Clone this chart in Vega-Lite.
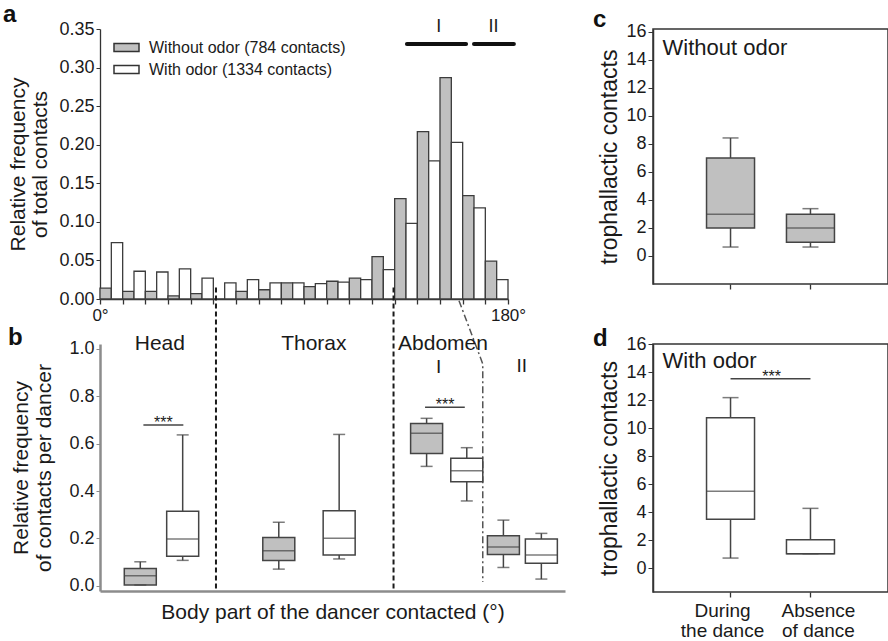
{
  "$schema": "https://vega.github.io/schema/vega-lite/v6.json",
  "background": "white",
  "padding": {"left": 2, "top": 2, "right": 0, "bottom": 0},
  "config": {
    "font": "Liberation Sans",
    "view": {"stroke": null},
    "axis": {"grid": false, "labelFont": "Liberation Sans", "titleFont": "Liberation Sans", "labelColor": "#1a1a1a", "titleColor": "#1a1a1a", "titleFontWeight": "normal", "domainColor": "#333333", "tickColor": "#333333", "labelOverlap": false},
    "title": {"font": "Liberation Sans", "fontSize": 24, "fontWeight": "bold", "color": "#111111", "anchor": "start", "frame": "bounds"},
    "text": {"font": "Liberation Sans", "color": "#1a1a1a"},
    "legend": {"labelFont": "Liberation Sans"}
  },
  "datasets": {
    "histogram": [
      {"angle_from": 0, "angle_to": 5, "frequency": 0.014, "condition": "Without odor (784 contacts)"},
      {"angle_from": 5, "angle_to": 10, "frequency": 0.073, "condition": "With odor (1334 contacts)"},
      {"angle_from": 10, "angle_to": 15, "frequency": 0.010, "condition": "Without odor (784 contacts)"},
      {"angle_from": 15, "angle_to": 20, "frequency": 0.036, "condition": "With odor (1334 contacts)"},
      {"angle_from": 20, "angle_to": 25, "frequency": 0.010, "condition": "Without odor (784 contacts)"},
      {"angle_from": 25, "angle_to": 30, "frequency": 0.035, "condition": "With odor (1334 contacts)"},
      {"angle_from": 30, "angle_to": 35, "frequency": 0.004, "condition": "Without odor (784 contacts)"},
      {"angle_from": 35, "angle_to": 40, "frequency": 0.039, "condition": "With odor (1334 contacts)"},
      {"angle_from": 40, "angle_to": 45, "frequency": 0.007, "condition": "Without odor (784 contacts)"},
      {"angle_from": 45, "angle_to": 50, "frequency": 0.027, "condition": "With odor (1334 contacts)"},
      {"angle_from": 50, "angle_to": 55, "frequency": 0.0, "condition": "Without odor (784 contacts)"},
      {"angle_from": 55, "angle_to": 60, "frequency": 0.021, "condition": "With odor (1334 contacts)"},
      {"angle_from": 60, "angle_to": 65, "frequency": 0.010, "condition": "Without odor (784 contacts)"},
      {"angle_from": 65, "angle_to": 70, "frequency": 0.025, "condition": "With odor (1334 contacts)"},
      {"angle_from": 70, "angle_to": 75, "frequency": 0.012, "condition": "Without odor (784 contacts)"},
      {"angle_from": 75, "angle_to": 80, "frequency": 0.021, "condition": "With odor (1334 contacts)"},
      {"angle_from": 80, "angle_to": 85, "frequency": 0.021, "condition": "Without odor (784 contacts)"},
      {"angle_from": 85, "angle_to": 90, "frequency": 0.021, "condition": "With odor (1334 contacts)"},
      {"angle_from": 90, "angle_to": 95, "frequency": 0.016, "condition": "Without odor (784 contacts)"},
      {"angle_from": 95, "angle_to": 100, "frequency": 0.020, "condition": "With odor (1334 contacts)"},
      {"angle_from": 100, "angle_to": 105, "frequency": 0.023, "condition": "Without odor (784 contacts)"},
      {"angle_from": 105, "angle_to": 110, "frequency": 0.022, "condition": "With odor (1334 contacts)"},
      {"angle_from": 110, "angle_to": 115, "frequency": 0.027, "condition": "Without odor (784 contacts)"},
      {"angle_from": 115, "angle_to": 120, "frequency": 0.025, "condition": "With odor (1334 contacts)"},
      {"angle_from": 120, "angle_to": 125, "frequency": 0.055, "condition": "Without odor (784 contacts)"},
      {"angle_from": 125, "angle_to": 130, "frequency": 0.038, "condition": "With odor (1334 contacts)"},
      {"angle_from": 130, "angle_to": 135, "frequency": 0.130, "condition": "Without odor (784 contacts)"},
      {"angle_from": 135, "angle_to": 140, "frequency": 0.098, "condition": "With odor (1334 contacts)"},
      {"angle_from": 140, "angle_to": 145, "frequency": 0.217, "condition": "Without odor (784 contacts)"},
      {"angle_from": 145, "angle_to": 150, "frequency": 0.179, "condition": "With odor (1334 contacts)"},
      {"angle_from": 150, "angle_to": 155, "frequency": 0.287, "condition": "Without odor (784 contacts)"},
      {"angle_from": 155, "angle_to": 160, "frequency": 0.203, "condition": "With odor (1334 contacts)"},
      {"angle_from": 160, "angle_to": 165, "frequency": 0.134, "condition": "Without odor (784 contacts)"},
      {"angle_from": 165, "angle_to": 170, "frequency": 0.118, "condition": "With odor (1334 contacts)"},
      {"angle_from": 170, "angle_to": 175, "frequency": 0.049, "condition": "Without odor (784 contacts)"},
      {"angle_from": 175, "angle_to": 180, "frequency": 0.025, "condition": "With odor (1334 contacts)"}
    ],
    "abdomen_segments": [
      {"segment": "I", "angle_start": 135.4, "angle_end": 161.5, "label_angle": 149.4, "level": 0.3306, "label_level": 0.3526},
      {"segment": "II", "angle_start": 165.0, "angle_end": 182.6, "label_angle": 173.6, "level": 0.3306, "label_level": 0.3526}
    ],
    "body_parts": [
      {"part": "Head", "condition": "Without odor", "angle": 15.9, "whisker_low": 0.003, "q1": 0.003, "median": 0.042, "q3": 0.073, "whisker_high": 0.101},
      {"part": "Head", "condition": "With odor", "angle": 35.0, "whisker_low": 0.107, "q1": 0.124, "median": 0.197, "q3": 0.314, "whisker_high": 0.637},
      {"part": "Thorax", "condition": "Without odor", "angle": 78.3, "whisker_low": 0.070, "q1": 0.106, "median": 0.148, "q3": 0.204, "whisker_high": 0.268},
      {"part": "Thorax", "condition": "With odor", "angle": 105.5, "whisker_low": 0.113, "q1": 0.130, "median": 0.200, "q3": 0.317, "whisker_high": 0.639},
      {"part": "Abdomen I", "condition": "Without odor", "angle": 144.9, "whisker_low": 0.504, "q1": 0.558, "median": 0.644, "q3": 0.685, "whisker_high": 0.707},
      {"part": "Abdomen I", "condition": "With odor", "angle": 163.0, "whisker_low": 0.358, "q1": 0.439, "median": 0.486, "q3": 0.538, "whisker_high": 0.583},
      {"part": "Abdomen II", "condition": "Without odor", "angle": 179.5, "whisker_low": 0.077, "q1": 0.132, "median": 0.163, "q3": 0.211, "whisker_high": 0.277},
      {"part": "Abdomen II", "condition": "With odor", "angle": 196.6, "whisker_low": 0.028, "q1": 0.095, "median": 0.130, "q3": 0.197, "whisker_high": 0.221}
    ],
    "region_boundaries": [
      {"boundary_angle": 50},
      {"boundary_angle": 130}
    ],
    "abdomen_split": [
      {"step": 1, "angle": 159.5, "level": 1.204},
      {"step": 2, "angle": 170.2, "level": 0.937},
      {"step": 3, "angle": 170.2, "level": 0.016}
    ],
    "region_labels": [
      {"label": "Head", "angle": 24.7, "level": 1.021},
      {"label": "Thorax", "angle": 94.1, "level": 1.021},
      {"label": "Abdomen", "angle": 152.3, "level": 1.021}
    ],
    "subregion_labels": [
      {"label": "I", "angle": 150.3, "level": 0.924},
      {"label": "II", "angle": 187.8, "level": 0.93}
    ],
    "significance_b": [
      {"from": 17.3, "to": 35.3, "mid": 26.3, "level": 0.679, "marker": "***"},
      {"from": 144.2, "to": 162.1, "mid": 153.2, "level": 0.7535, "marker": "***"}
    ],
    "trophallaxis": [
      {"odor": "Without odor", "period": "During the dance", "whisker_low": 0.64, "q1": 2.0, "median": 2.98, "q3": 7.0, "whisker_high": 8.43},
      {"odor": "Without odor", "period": "Absence of dance", "whisker_low": 0.64, "q1": 0.98, "median": 2.0, "q3": 2.98, "whisker_high": 3.38},
      {"odor": "With odor", "period": "During the dance", "whisker_low": 0.71, "q1": 3.48, "median": 5.48, "q3": 10.74, "whisker_high": 12.17},
      {"odor": "With odor", "period": "Absence of dance", "whisker_low": 1.02, "q1": 1.02, "median": 1.02, "q3": 2.02, "whisker_high": 4.26}
    ],
    "panel_labels": [
      {"panel": "c", "label": "Without odor"},
      {"panel": "d", "label": "With odor"}
    ],
    "significance_d": [
      {"from": "During the dance", "to": "Absence of dance", "level": 13.52, "marker": "***"}
    ]
  },
  "bounds": "flush",
  "columns": 2,
  "spacing": {"row": 45, "column": 88},
  "resolve": {"scale": {"fill": "independent"}, "legend": {"fill": "independent"}},
  "concat": [
    {
      "width": 408,
      "height": 270,
      "title": {"text": "a", "dx": -5, "offset": -9},
      "layer": [
        {
          "data": {"name": "histogram"},
          "mark": {"type": "bar", "stroke": "#3c3c3c", "strokeWidth": 1.3},
          "encoding": {
            "x": {"field": "angle_from", "type": "quantitative", "scale": {"domain": [0, 180], "nice": false, "zero": false},
              "axis": {"title": null, "values": [0, 10, 20, 30, 40, 50, 60, 70, 80, 90, 100, 110, 120, 130, 140, 150, 160, 170, 180], "tickCount": 50, "labelExpr": "datum.value == 0 || datum.value == 180 ? datum.value + '°' : ''", "tickSize": 5, "labelFontSize": 17, "labelPadding": 3, "domainWidth": 1.3, "tickWidth": 1.3, "labelFlush": false, "labelOverlap": false}},
            "x2": {"field": "angle_to"},
            "y": {"field": "frequency", "type": "quantitative", "scale": {"domain": [0, 0.35], "nice": false},
              "axis": {"values": [0, 0.05, 0.1, 0.15, 0.2, 0.25, 0.3, 0.35], "tickCount": 20, "format": ".2f", "labelOverlap": false, "labelFontSize": 18, "tickSize": 4, "labelPadding": 2, "title": ["Relative frequency", "of total contacts"], "titleFontSize": 21, "titleLineHeight": 22, "titlePadding": 8, "domainWidth": 1.3}},
            "y2": {"datum": 0},
            "fill": {"field": "condition", "type": "nominal",
              "scale": {"domain": ["Without odor (784 contacts)", "With odor (1334 contacts)"], "range": ["#c0c0c0", "#ffffff"]},
              "legend": {"title": null, "orient": "none", "legendX": 13, "legendY": 5, "symbolType": "M-1,-0.32H1V0.32H-1Z", "symbolSize": 625, "symbolStrokeColor": "#333333", "symbolStrokeWidth": 1.5, "labelFontSize": 16, "labelOffset": 9, "labelLimit": 400, "rowPadding": -8, "labelColor": "#1a1a1a"}}
          }
        },
        {
          "data": {"name": "abdomen_segments"},
          "mark": {"type": "rule", "strokeWidth": 4, "color": "#111111", "strokeCap": "round"},
          "encoding": {
            "x": {"field": "angle_start", "type": "quantitative"},
            "x2": {"field": "angle_end"},
            "y": {"field": "level", "type": "quantitative"}
          }
        },
        {
          "data": {"name": "abdomen_segments"},
          "mark": {"type": "text", "fontSize": 18, "baseline": "middle"},
          "encoding": {
            "x": {"field": "label_angle", "type": "quantitative"},
            "y": {"field": "label_level", "type": "quantitative"},
            "text": {"field": "segment"}
          }
        }
      ]
    },
    {
      "width": 235,
      "height": 255,
      "view": {"stroke": "#333333", "strokeWidth": 1.5},
      "title": {"text": "c", "dx": -6, "offset": -9},
      "layer": [
        {
          "data": {"name": "trophallaxis"},
          "transform": [{"filter": "datum.odor == 'Without odor'"}],
          "mark": {"type": "rule", "strokeWidth": 1.5, "color": "#444444"},
          "encoding": {
            "x": {"field": "period", "type": "nominal"},
            "y": {"field": "whisker_low", "type": "quantitative"},
            "y2": {"field": "whisker_high"}
          }
        },
        {
          "data": {"name": "trophallaxis"},
          "transform": [{"filter": "datum.odor == 'Without odor'"}],
          "mark": {"type": "bar", "size": 48, "fill": "#c0c0c0", "stroke": "#444444", "strokeWidth": 1.5},
          "encoding": {
            "x": {"field": "period", "type": "nominal", "sort": null,
              "scale": {"type": "band", "domain": ["During the dance", "Absence of dance"], "paddingInner": 0, "paddingOuter": 0.47},
              "axis": {"title": null, "labels": false, "tickSize": 5, "domain": false, "bandPosition": 0.5, "tickWidth": 1.3}},
            "y": {"field": "q1", "type": "quantitative", "scale": {"domain": [-2, 16.21], "nice": false, "zero": false},
              "axis": {"values": [0, 2, 4, 6, 8, 10, 12, 14, 16], "tickCount": 20, "labelOverlap": false, "labelFontSize": 18, "tickSize": 5, "labelPadding": 2, "title": "trophallactic contacts", "titleFontSize": 23, "titlePadding": 4, "domainWidth": 1.5}},
            "y2": {"field": "q3"}
          }
        },
        {
          "data": {"name": "trophallaxis"},
          "transform": [{"filter": "datum.odor == 'Without odor'"}],
          "mark": {"type": "tick", "orient": "horizontal", "size": 16, "thickness": 1.5, "color": "#444444"},
          "encoding": {
            "x": {"field": "period", "type": "nominal"},
            "y": {"field": "whisker_low", "type": "quantitative"}
          }
        },
        {
          "data": {"name": "trophallaxis"},
          "transform": [{"filter": "datum.odor == 'Without odor'"}],
          "mark": {"type": "tick", "orient": "horizontal", "size": 16, "thickness": 1.5, "color": "#444444"},
          "encoding": {
            "x": {"field": "period", "type": "nominal"},
            "y": {"field": "whisker_high", "type": "quantitative"}
          }
        },
        {
          "data": {"name": "trophallaxis"},
          "transform": [{"filter": "datum.odor == 'Without odor'"}],
          "mark": {"type": "tick", "orient": "horizontal", "size": 48, "thickness": 1.5, "color": "#444444"},
          "encoding": {
            "x": {"field": "period", "type": "nominal"},
            "y": {"field": "median", "type": "quantitative"}
          }
        },
        {
          "data": {"name": "panel_labels"},
          "transform": [{"filter": "datum.panel == 'c'"}],
          "mark": {"type": "text", "fontSize": 22, "align": "left", "baseline": "middle", "dx": -68},
          "encoding": {
            "x": {"datum": "During the dance", "type": "nominal"},
            "y": {"datum": 14.86, "type": "quantitative"},
            "text": {"field": "label"}
          }
        }
      ]
    },
    {
      "width": 465,
      "height": 247,
      "title": {"text": "b", "dx": -3, "offset": -64},
      "layer": [
        {
          "data": {"name": "region_boundaries"},
          "mark": {"type": "rule", "strokeDash": [5, 3], "strokeWidth": 2, "color": "#1a1a1a"},
          "encoding": {
            "x": {"field": "boundary_angle", "type": "quantitative"},
            "y": {"datum": 1.26, "type": "quantitative"},
            "y2": {"datum": -0.0224}
          }
        },
        {
          "data": {"name": "abdomen_split"},
          "mark": {"type": "line", "strokeDash": [7, 3, 2, 3], "strokeWidth": 1.5, "color": "#555555"},
          "encoding": {
            "x": {"field": "angle", "type": "quantitative"},
            "y": {"field": "level", "type": "quantitative"},
            "order": {"field": "step"}
          }
        },
        {
          "data": {"name": "body_parts"},
          "mark": {"type": "rule", "strokeWidth": 1.5, "color": "#444444"},
          "encoding": {
            "x": {"field": "angle", "type": "quantitative"},
            "y": {"field": "whisker_low", "type": "quantitative"},
            "y2": {"field": "whisker_high"}
          }
        },
        {
          "data": {"name": "body_parts"},
          "mark": {"type": "bar", "size": 32, "stroke": "#444444", "strokeWidth": 1.5},
          "encoding": {
            "x": {"field": "angle", "type": "quantitative", "scale": {"domain": [0, 205], "nice": false, "zero": false},
              "axis": {"title": "Body part of the dancer contacted (°)", "labels": false, "ticks": false, "domainColor": "#8c8c8c", "domainWidth": 2.5, "titleFontSize": 21, "titlePadding": 10}},
            "y": {"field": "q1", "type": "quantitative", "scale": {"domain": [-0.0224, 1.021], "nice": false, "zero": false},
              "axis": {"values": [0, 0.2, 0.4, 0.6, 0.8, 1.0], "tickCount": 20, "format": ".1f", "labelOverlap": false, "labelFontSize": 18, "tickSize": 4, "labelPadding": 2, "tickColor": "#8c8c8c", "domainColor": "#8c8c8c", "domainWidth": 2.5, "title": ["Relative frequency", "of contacts per dancer"], "titleFontSize": 21, "titleLineHeight": 23, "titlePadding": 14}},
            "y2": {"field": "q3"},
            "fill": {"field": "condition", "type": "nominal", "scale": {"domain": ["Without odor", "With odor"], "range": ["#c0c0c0", "#ffffff"]}, "legend": null}
          }
        },
        {
          "data": {"name": "body_parts"},
          "mark": {"type": "tick", "orient": "horizontal", "size": 12, "thickness": 1.5, "color": "#444444"},
          "encoding": {
            "x": {"field": "angle", "type": "quantitative"},
            "y": {"field": "whisker_low", "type": "quantitative"}
          }
        },
        {
          "data": {"name": "body_parts"},
          "mark": {"type": "tick", "orient": "horizontal", "size": 12, "thickness": 1.5, "color": "#444444"},
          "encoding": {
            "x": {"field": "angle", "type": "quantitative"},
            "y": {"field": "whisker_high", "type": "quantitative"}
          }
        },
        {
          "data": {"name": "body_parts"},
          "mark": {"type": "tick", "orient": "horizontal", "size": 32, "thickness": 1.5, "color": "#444444"},
          "encoding": {
            "x": {"field": "angle", "type": "quantitative"},
            "y": {"field": "median", "type": "quantitative"}
          }
        },
        {
          "data": {"name": "significance_b"},
          "mark": {"type": "rule", "strokeWidth": 1.5, "color": "#444444"},
          "encoding": {
            "x": {"field": "from", "type": "quantitative"},
            "x2": {"field": "to"},
            "y": {"field": "level", "type": "quantitative"}
          }
        },
        {
          "data": {"name": "significance_b"},
          "mark": {"type": "text", "fontSize": 16, "baseline": "alphabetic", "dy": 3},
          "encoding": {
            "x": {"field": "mid", "type": "quantitative"},
            "y": {"field": "level", "type": "quantitative"},
            "text": {"field": "marker"}
          }
        },
        {
          "data": {"name": "region_labels"},
          "mark": {"type": "text", "fontSize": 21, "baseline": "middle"},
          "encoding": {
            "x": {"field": "angle", "type": "quantitative"},
            "y": {"field": "level", "type": "quantitative"},
            "text": {"field": "label"}
          }
        },
        {
          "data": {"name": "subregion_labels"},
          "mark": {"type": "text", "fontSize": 19, "baseline": "middle"},
          "encoding": {
            "x": {"field": "angle", "type": "quantitative"},
            "y": {"field": "level", "type": "quantitative"},
            "text": {"field": "label"}
          }
        }
      ]
    },
    {
      "width": 235,
      "height": 248,
      "view": {"stroke": "#333333", "strokeWidth": 1.5},
      "title": {"text": "d", "dx": -6, "offset": -16},
      "layer": [
        {
          "data": {"name": "trophallaxis"},
          "transform": [{"filter": "datum.odor == 'With odor'"}],
          "mark": {"type": "rule", "strokeWidth": 1.5, "color": "#444444"},
          "encoding": {
            "x": {"field": "period", "type": "nominal"},
            "y": {"field": "whisker_low", "type": "quantitative"},
            "y2": {"field": "whisker_high"}
          }
        },
        {
          "data": {"name": "trophallaxis"},
          "transform": [{"filter": "datum.odor == 'With odor'"}],
          "mark": {"type": "bar", "size": 48, "fill": "#ffffff", "stroke": "#444444", "strokeWidth": 1.5},
          "encoding": {
            "x": {"field": "period", "type": "nominal", "sort": null,
              "scale": {"type": "band", "domain": ["During the dance", "Absence of dance"], "paddingInner": 0, "paddingOuter": 0.47},
              "axis": {"title": null, "tickSize": 5, "domain": false, "bandPosition": 0.5, "tickWidth": 1.3, "labelAngle": 0, "labelAlign": "center", "labelFontSize": 19, "labelLineHeight": 20, "labelPadding": 4, "labelBaseline": "top",
                "labelOffset": {"condition": {"test": "datum.value == 'During the dance'", "value": -8}, "value": 8},
                "labelExpr": "datum.value == 'During the dance' ? ['During', 'the dance'] : ['Absence', 'of dance']"}},
            "y": {"field": "q1", "type": "quantitative", "scale": {"domain": [-1.714, 16], "nice": false, "zero": false},
              "axis": {"values": [0, 2, 4, 6, 8, 10, 12, 14, 16], "tickCount": 20, "labelOverlap": false, "labelFontSize": 18, "tickSize": 5, "labelPadding": 2, "title": "trophallactic contacts", "titleFontSize": 23, "titlePadding": 4, "domainWidth": 1.5}},
            "y2": {"field": "q3"}
          }
        },
        {
          "data": {"name": "trophallaxis"},
          "transform": [{"filter": "datum.odor == 'With odor'"}],
          "mark": {"type": "tick", "orient": "horizontal", "size": 16, "thickness": 1.5, "color": "#444444"},
          "encoding": {
            "x": {"field": "period", "type": "nominal"},
            "y": {"field": "whisker_low", "type": "quantitative"}
          }
        },
        {
          "data": {"name": "trophallaxis"},
          "transform": [{"filter": "datum.odor == 'With odor'"}],
          "mark": {"type": "tick", "orient": "horizontal", "size": 16, "thickness": 1.5, "color": "#444444"},
          "encoding": {
            "x": {"field": "period", "type": "nominal"},
            "y": {"field": "whisker_high", "type": "quantitative"}
          }
        },
        {
          "data": {"name": "trophallaxis"},
          "transform": [{"filter": "datum.odor == 'With odor'"}],
          "mark": {"type": "tick", "orient": "horizontal", "size": 48, "thickness": 1.5, "color": "#444444"},
          "encoding": {
            "x": {"field": "period", "type": "nominal"},
            "y": {"field": "median", "type": "quantitative"}
          }
        },
        {
          "data": {"name": "significance_d"},
          "mark": {"type": "rule", "strokeWidth": 1.5, "color": "#444444"},
          "encoding": {
            "x": {"field": "from", "type": "nominal"},
            "x2": {"field": "to"},
            "y": {"field": "level", "type": "quantitative"}
          }
        },
        {
          "data": {"name": "significance_d"},
          "mark": {"type": "text", "fontSize": 16, "baseline": "alphabetic", "dy": 3, "dx": 41},
          "encoding": {
            "x": {"field": "from", "type": "nominal"},
            "y": {"field": "level", "type": "quantitative"},
            "text": {"field": "marker"}
          }
        },
        {
          "data": {"name": "panel_labels"},
          "transform": [{"filter": "datum.panel == 'd'"}],
          "mark": {"type": "text", "fontSize": 22, "align": "left", "baseline": "middle", "dx": -68},
          "encoding": {
            "x": {"datum": "During the dance", "type": "nominal"},
            "y": {"datum": 14.79, "type": "quantitative"},
            "text": {"field": "label"}
          }
        }
      ]
    }
  ]
}
